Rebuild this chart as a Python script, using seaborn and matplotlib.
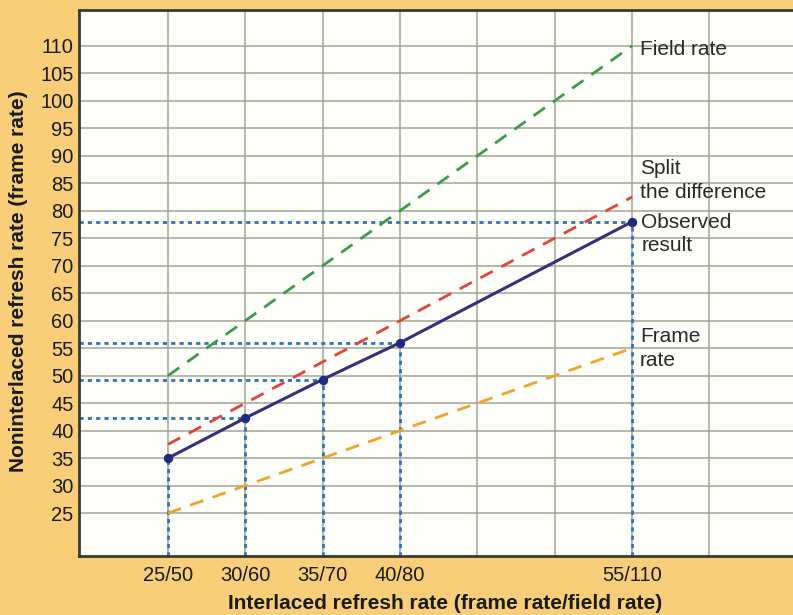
import matplotlib
matplotlib.use("Agg")
import matplotlib.pyplot as plt
import seaborn as sns
import pandas as pd

# Data
frame_rates = [25, 30, 35, 40, 55]
tick_labels = ["25/50", "30/60", "35/70", "40/80", "55/110"]
field_rate = [50, 60, 70, 80, 110]
split_diff = [37.5, 45, 52.5, 60, 82.5]
frame_rate = [25, 30, 35, 40, 55]
observed = [35, 42.3, 49.3, 56, 78]
y_ticks = list(range(25, 115, 5))

df = pd.DataFrame({"x": frame_rates, "field": field_rate, "split": split_diff,
                   "frame": frame_rate, "observed": observed})

sns.set_theme(style="white")
plt.rcParams['font.family'] = ['Liberation Sans', 'DejaVu Sans']

fig = plt.figure(figsize=(7.93, 6.15), dpi=100)
fig.patch.set_facecolor("#f8cf78")
ax = fig.add_axes([79/793, 1 - 556/615, 1 - 79/793, (556 - 9.5)/615])
ax.set_facecolor("#fdfdf9")

xmin, xmax = 19.25, 65.4
ymin, ymax = 17.2, 116.6
ax.set_xlim(xmin, xmax)
ax.set_ylim(ymin, ymax)

# grid
for xv in range(25, 65, 5):
    ax.axvline(xv, color="#a3a394", lw=1.1, zorder=1)
for yv in y_ticks:
    ax.axhline(yv, color="#a3a394", lw=1.1, zorder=1)

# blue dotted guides
guide = "#2d72b8"
for i, (xv, yv) in enumerate(zip(frame_rates, observed)):
    ax.plot([xv, xv], [ymin, yv], ls=(0, (1.5, 1.5)), color=guide, lw=2.0, zorder=2)
    if i > 0:
        ax.plot([xmin, xv], [yv, yv], ls=(0, (1.5, 1.5)), color=guide, lw=2.0, zorder=2)

sns.lineplot(data=df, x="x", y="field", ax=ax, color="#3c9a4c", lw=2.0, zorder=3)
ax.lines[-1].set_linestyle((0, (5, 3.5)))
sns.lineplot(data=df, x="x", y="split", ax=ax, color="#e2443a", lw=2.0, zorder=3)
ax.lines[-1].set_linestyle((0, (5, 3.5)))
sns.lineplot(data=df, x="x", y="frame", ax=ax, color="#f0a428", lw=2.0, zorder=3)
ax.lines[-1].set_linestyle((0, (5, 3.5)))
sns.lineplot(data=df, x="x", y="observed", ax=ax, color="#34307e", lw=2.2, zorder=4,
             marker="o", markersize=6, markeredgecolor="#1f2a80", markerfacecolor="#1f2a80")

# annotations
tc = "#2a2a2a"
fs = 15
ax.text(55.5, 109.3, "Field rate", fontsize=fs, color=tc, va="center", ha="left")
ax.text(55.5, 85.5, "Split\nthe difference", fontsize=fs, color=tc, va="center", ha="left",
        linespacing=1.3)
ax.text(55.6, 75.8, "Observed\nresult", fontsize=fs, color=tc, va="center", ha="left",
        linespacing=1.3)
ax.text(55.5, 54.9, "Frame\nrate", fontsize=fs, color=tc, va="center", ha="left",
        linespacing=1.3)

ax.set_xticks(frame_rates)
ax.set_xticklabels(tick_labels, fontsize=14.5, color="#1a1a1a")
ax.set_yticks(y_ticks)
ax.set_yticklabels([str(v) for v in y_ticks], fontsize=14.5, color="#1a1a1a")
ax.tick_params(axis="both", length=0)
ax.tick_params(axis="y", pad=4)
ax.tick_params(axis="x", pad=7)

ax.set_xlabel("")
ax.set_ylabel("")
fig.text(0.561, 0.004, "Interlaced refresh rate (frame rate/field rate)", ha="center",
         va="bottom", fontsize=15, fontweight="bold", color="#1a1a1a")
fig.text(0.023, 0.543, "Noninterlaced refresh rate (frame rate)", ha="center",
         va="center", rotation=90, fontsize=15, fontweight="bold", color="#1a1a1a")

for s in ["left", "bottom", "top"]:
    ax.spines[s].set_color("#3a3a30")
    ax.spines[s].set_linewidth(2.0)
ax.spines["right"].set_visible(False)

fig.savefig("out.png", dpi=100, facecolor=fig.get_facecolor())
